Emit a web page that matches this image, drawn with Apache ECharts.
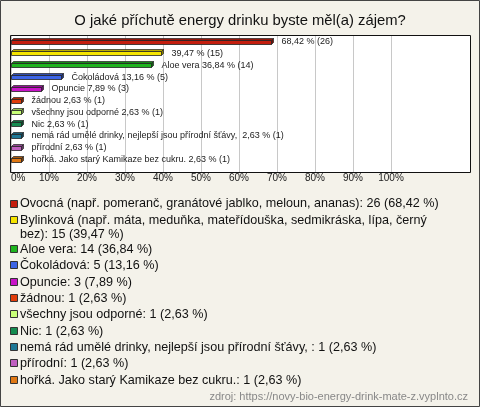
<!DOCTYPE html>
<html>
<head>
<meta charset="utf-8">
<script src="https://cdn.jsdelivr.net/npm/echarts@6/dist/echarts.min.js"></script>
<style>
html,body{margin:0;padding:0;background:#f4f2ea;}
#c{width:480px;height:407px;}
</style>
</head>
<body>
<div id="c"></div>
<script>
const titleText = 'O jaké příchutě energy drinku byste měl(a) zájem?';
const legendNames = [
  'Ovocná (např. pomeranč, granátové jablko, meloun, ananas)',
  'Bylinková (např. máta, meduňka, mateřídouška, sedmikráska, lípa, černý bez)',
  'Aloe vera',
  'Čokoládová',
  'Opuncie',
  'žádnou',
  'všechny jsou odporné',
  'Nic',
  'nemá rád umělé drinky, nejlepší jsou přírodní šťávy, ',
  'přírodní',
  'hořká. Jako starý Kamikaze bez cukru.'
];
const barLabelNames = ['', '', 'Aloe vera', 'Čokoládová', 'Opuncie', 'žádnou', 'všechny jsou odporné', 'Nic',
  'nemá rád umělé drinky, nejlepší jsou přírodní šťávy, ', 'přírodní', 'hořká. Jako starý Kamikaze bez cukru.'];
const counts = [26, 15, 14, 5, 3, 1, 1, 1, 1, 1, 1];
const percents = [68.42, 39.47, 36.84, 13.16, 7.89, 2.63, 2.63, 2.63, 2.63, 2.63, 2.63];
const colors = ['#c41e0e', '#f5e400', '#1eb41e', '#3c64e6', '#c814c8', '#e03c0a', '#c8ff78', '#148c50', '#1e7896', '#c060c0', '#e07814'];
const xTicks = [0, 10, 20, 30, 40, 50, 60, 70, 80, 90, 100];
const sourceText = 'zdroj: https://novy-bio-energy-drink-mate-z.vyplnto.cz';

const fmt = v => v.toFixed(2).replace('.', ',');
function darken(hex, f) {
  const n = parseInt(hex.slice(1), 16);
  const r = Math.round(((n >> 16) & 255) * f), g = Math.round(((n >> 8) & 255) * f), b = Math.round((n & 255) * f);
  return 'rgb(' + r + ',' + g + ',' + b + ')';
}

const FONT = '"Liberation Sans", Arial, sans-serif';
const LEG_FONT = '12.6px ' + FONT;
// wrapping measured like a hinted 13px renderer (integer advances)
const measureCtx = document.createElement('canvas').getContext('2d');
measureCtx.font = '13px ' + FONT;
function hintedWidth(s) {
  let w = 0;
  for (const ch of s) w += Math.round(measureCtx.measureText(ch).width);
  return w;
}
function wrapText(t, maxW) {
  const words = t.split(' ');
  const lines = [];
  let cur = '';
  words.forEach(w => {
    const test = cur ? cur + ' ' + w : w;
    if (cur && hintedWidth(test) > maxW) { lines.push(cur); cur = w; }
    else cur = test;
  });
  lines.push(cur);
  return lines;
}

const chart = echarts.init(document.getElementById('c'), null, {renderer: 'canvas'});

const legendGraphics = [];
let ly = 203.5;
legendNames.forEach((n, i) => {
  const lines = wrapText(n + ': ' + counts[i] + ' (' + fmt(percents[i]) + ' %)', 452);
  legendGraphics.push({
    type: 'rect', shape: {x: 10.5, y: Math.round(ly - 4) + 0.5, width: 7, height: 7},
    style: {fill: colors[i], stroke: '#333', lineWidth: 1}, z: 10
  });
  legendGraphics.push({
    type: 'text', x: 20, y: ly - 6.5,
    style: {text: lines.join('\n'), font: LEG_FONT, fill: '#111', lineHeight: 14, verticalAlign: 'top'}, z: 10
  });
  ly += 16.35 + (lines.length - 1) * 12.8;
});

const option = {
  backgroundColor: '#f4f2ea',
  animation: false,
  title: {
    text: titleText, left: 'center', top: 8,
    textStyle: {fontFamily: FONT, fontSize: 14.8, fontWeight: 'normal', color: '#111'}
  },
  grid: {left: 11, width: 380, top: 35, height: 137},
  xAxis: {
    type: 'value', min: 0, max: 100, interval: 10,
    axisLine: {show: false}, axisTick: {show: false},
    splitLine: {show: true, lineStyle: {color: '#c8c8c8', width: 1}},
    axisLabel: {
      formatter: v => xTicks.includes(v) ? v + '%' : '',
      fontFamily: FONT, fontSize: 10, color: '#222', margin: 1.5, alignMinLabel: 'left'
    }
  },
  yAxis: {
    type: 'value', inverse: true, min: -0.57, max: 11.06,
    axisLine: {show: false}, axisTick: {show: false}, axisLabel: {show: false}, splitLine: {show: false}
  },
  graphic: [
    {type: 'rect', shape: {x: 0.5, y: 0.5, width: 479, height: 406}, style: {fill: null, stroke: '#444', lineWidth: 1}, z: 100},
    {type: 'rect', shape: {x: 10.5, y: 35.5, width: 460, height: 137}, style: {fill: '#ffffff', stroke: null}, z: -10},
    {type: 'rect', shape: {x: 10.5, y: 35.5, width: 460, height: 137}, style: {fill: null, stroke: '#111', lineWidth: 1}, z: 50},
    {type: 'text', right: 12, top: 391, style: {text: sourceText, font: '11px ' + FONT, fill: '#888'}, z: 10}
  ].concat(legendGraphics),
  series: [{
    type: 'custom',
    data: percents.map((v, i) => [v, i]),
    encode: {x: 0, y: 1},
    renderItem: function (params, api) {
      const v = api.value(0), i = api.value(1);
      const p0 = api.coord([0, i]), p1 = api.coord([v, i]);
      const x0 = Math.round(p0[0]) + 0.5, x1 = Math.round(p1[0]) + 0.5, yc = p0[1];
      const top = Math.round(yc - 2) + 0.5, bot = Math.round(yc + 2) + 0.5, d = 2;
      const c = colors[i];
      const lbl = (barLabelNames[i] ? barLabelNames[i] + ' ' : '') + fmt(percents[i]) + ' % (' + counts[i] + ')';
      return {
        type: 'group',
        children: [
          {type: 'polygon', shape: {points: [[x0, top], [x0 + d, top - d], [x1 + d, top - d], [x1, top]]},
            style: {fill: darken(c, 0.75), stroke: '#222', lineWidth: 0.7}},
          {type: 'polygon', shape: {points: [[x1, top], [x1 + d, top - d], [x1 + d, bot - d], [x1, bot]]},
            style: {fill: darken(c, 0.55), stroke: '#222', lineWidth: 0.7}},
          {type: 'rect', shape: {x: x0, y: top, width: x1 - x0, height: bot - top},
            style: {fill: c, stroke: '#222', lineWidth: 0.8}},
          {type: 'text', x: x1 + 10, y: yc,
            style: {text: lbl, font: '9px ' + FONT, fill: '#222', verticalAlign: 'middle', align: 'left'}}
        ]
      };
    }
  }]
};
chart.setOption(option);
</script>
</body>
</html>
